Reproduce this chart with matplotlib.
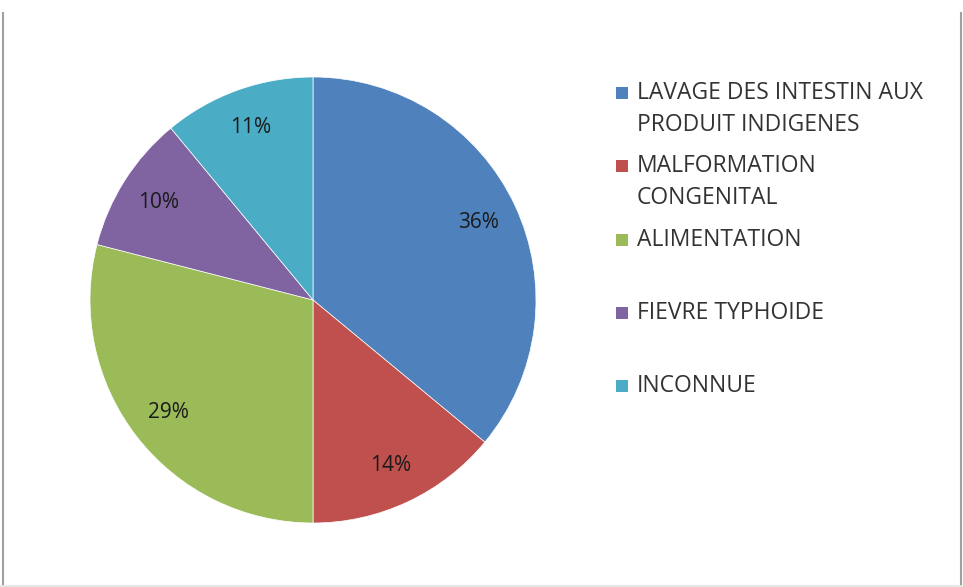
import matplotlib
matplotlib.use('Agg')
import matplotlib.pyplot as plt
from matplotlib.patches import Rectangle
from matplotlib.lines import Line2D

categories = ['LAVAGE DES INTESTIN AUX\nPRODUIT INDIGENES', 'MALFORMATION\nCONGENITAL',
              'ALIMENTATION', 'FIEVRE TYPHOIDE', 'INCONNUE']
shares = [36, 14, 29, 10, 11]
colors = ['#4F81BD', '#C0504D', '#9BBB59', '#8064A2', '#4BACC6']

plt.rcParams['font.family'] = ['Open Sans', 'DejaVu Sans']

W, H = 963, 587
fig = plt.figure(figsize=(W / 100, H / 100), dpi=100)

# pie centred at (313, 300) px, radius 223 px
cx, cy, r = 313, 300, 223
ax = fig.add_axes([(cx - r) / W, (H - cy - r) / H, 2 * r / W, 2 * r / H])
wedges, _, autotexts = ax.pie(shares, colors=colors, startangle=90, counterclock=False,
                              autopct='%d%%', pctdistance=0.82,
                              wedgeprops=dict(linewidth=0.5, edgecolor='white'),
                              textprops=dict(fontsize=15, color='#1a1a1a'))
ax.set_xlim(-1, 1)
ax.set_ylim(-1, 1)
ax.set_aspect('equal')

# legend drawn by hand to match uneven row spacing
legend_y = [93, 166, 240, 313, 386]
for color, label, y in zip(colors, categories, legend_y):
    fig.patches.append(Rectangle((616 / W, (H - y - 6) / H), 12 / W, 12 / H,
                                 transform=fig.transFigure, facecolor=color, edgecolor='none'))
    for i, line in enumerate(label.split('\n')):
        fig.text(637 / W, (H - y - 32 * i) / H, line, ha='left', va='center', fontsize=16.5,
                 color='#333333')

# frame lines of the original picture
fig.add_artist(Line2D([2.5 / W, 2.5 / W], [0, (H - 13) / H], color='#a0a0a0', lw=1.5))
fig.add_artist(Line2D([960.5 / W, 960.5 / W], [0, (H - 13) / H], color='#a0a0a0', lw=1.5))
fig.add_artist(Line2D([0, 1], [1 / H, 1 / H], color='#e6e6e6', lw=2))

fig.savefig('out.png', dpi=100, facecolor='white')
